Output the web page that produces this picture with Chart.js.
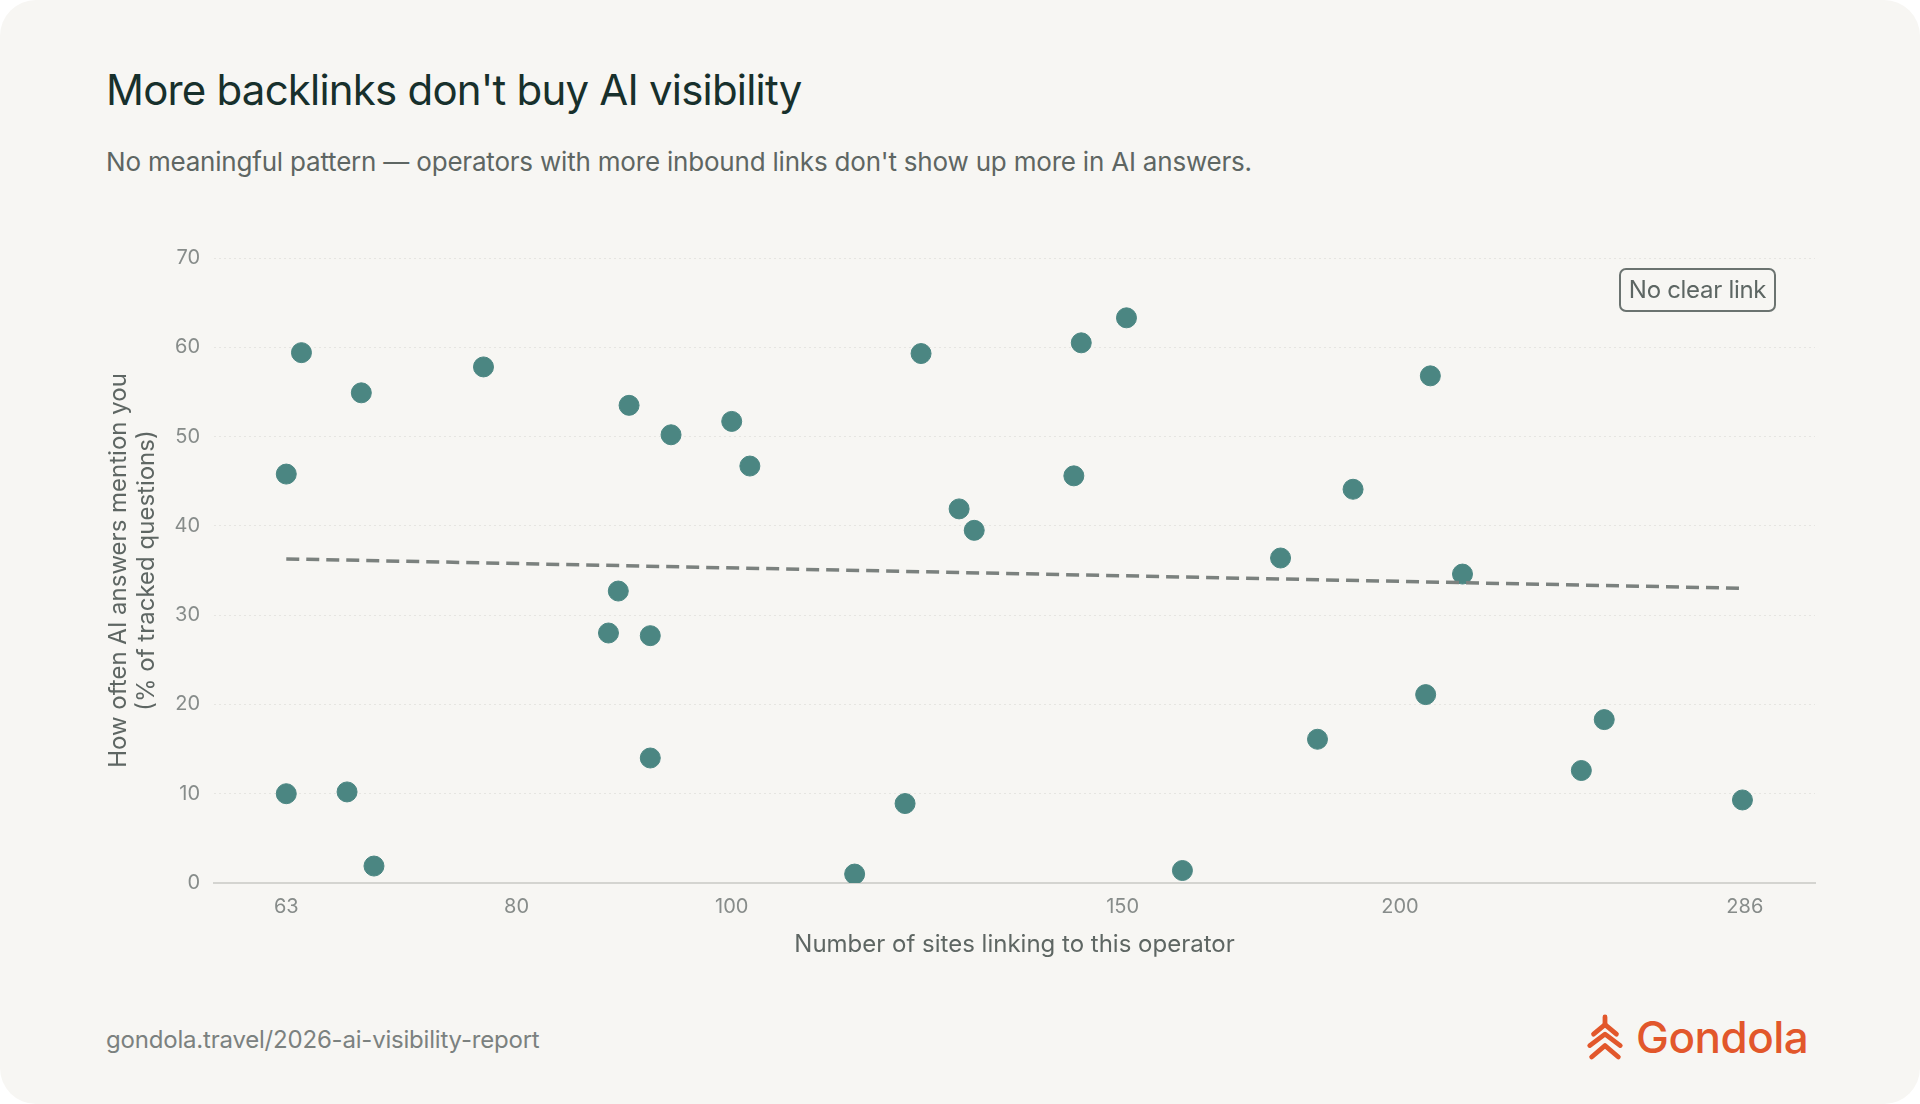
<!DOCTYPE html>
<html><head><meta charset="utf-8">
<script src="https://cdn.jsdelivr.net/npm/chart.js@4.4.1/dist/chart.umd.min.js"></script>
<style>
html,body{margin:0;padding:0;background:#ffffff;width:1920px;height:1104px;overflow:hidden;font-family:Inter,"Noto Sans",sans-serif}
#card{position:absolute;left:0;top:0;width:1920px;height:1104px;background:#f7f6f3;border-radius:36px}
#title{position:absolute;left:106px;top:64px;font-size:42px;color:#17302c;font-weight:400;letter-spacing:-0.8px}
#sub{position:absolute;left:106px;top:146px;font-size:26px;color:#5e6663;letter-spacing:-0.2px}
#foot{position:absolute;left:106px;top:1025px;font-size:24px;color:#7b817f;letter-spacing:-0.2px}
#logo{position:absolute;left:1584px;top:1010px;display:flex;align-items:center;color:#e2572b;font-size:44px;font-weight:500;letter-spacing:-0.5px}
#badge{position:absolute;left:1619px;top:268px;width:153px;height:40px;border:2px solid #6b7370;border-radius:7px;color:#5d6663;font-size:24px;line-height:40px;text-align:center;letter-spacing:-0.3px}
canvas{position:absolute;left:0;top:0}
</style></head><body>
<div id="card"></div>
<div id="title">More backlinks don't buy AI visibility</div>
<div id="sub">No meaningful pattern — operators with more inbound links don't show up more in AI answers.</div>
<div id="foot">gondola.travel/2026-ai-visibility-report</div>
<div id="logo"><svg width="42" height="48" viewBox="0 0 44 50" style="margin-right:10px"><g fill="none" stroke="#e2572b" stroke-width="5" stroke-linejoin="round" stroke-linecap="round"><path d="M22 4 L22 12"/><path d="M10 22 L22 12 L34 22"/><path d="M6 34 L22 22 L38 34"/><path d="M8 46 L22 34 L36 46"/></g></svg>Gondola</div>
<canvas id="c" width="1920" height="1104"></canvas>
<div id="badge">No clear link</div>
<script>
const linkCounts = [63,64.0,68.1,77.3,63,67.1,69.0,89.9,93.9,100,101.9,88.0,88.9,91.9,91.9,113.6,119.7,121.7,126.6,128.6,142.6,143.7,150.6,159.6,176.7,183.6,190.5,205.4,206.4,213.4,241.4,247.2,285.3];
const mentionPct = [45.8,59.4,54.9,57.8,10.0,10.2,1.9,53.5,50.2,51.7,46.7,28.0,32.7,27.7,14.0,1.0,8.9,59.3,41.9,39.5,45.6,60.5,63.3,1.4,36.4,16.1,44.1,21.1,56.8,34.6,12.6,18.3,9.3];
const trendX = [63,286];
const trendY = [36.3,33.0];
const xTickValues = [63,80,100,150,200,286];

new Chart(document.getElementById('c'),{
  type:'scatter',
  data:{datasets:[
    {type:'line',data:trendX.map((x,i)=>({x,y:trendY[i]})),borderColor:'#7b817e',borderWidth:3.5,borderDash:[13,7],pointRadius:0,fill:false},
    {data:linkCounts.map((x,i)=>({x,y:mentionPct[i]})),backgroundColor:'#4b8682',borderColor:'#4b8682',pointRadius:10,pointHoverRadius:10}
  ]},
  options:{
    responsive:false,animation:false,
    layout:{padding:{left:100,right:105,top:258,bottom:141}},
    plugins:{legend:{display:false},tooltip:{enabled:false}},
    scales:{
      x:{type:'logarithmic',min:58.45,max:307.6,
        afterBuildTicks:a=>{a.ticks=xTickValues.map(v=>({value:v}));},
        afterFit:a=>{a.height=80;},
        ticks:{callback:v=>String(v),color:'#878c8a',font:{family:'Inter',size:20},padding:4,maxRotation:0,autoSkip:false},
        grid:{display:false},
        border:{display:true,color:'#d4d4d0',width:2},
        title:{display:true,text:'Number of sites linking to this operator',color:'#5e6663',font:{family:'Inter',size:24},padding:{top:0}}
      },
      y:{min:0,max:70,
        afterFit:a=>{a.width=114;},
        ticks:{stepSize:10,color:'#878c8a',font:{family:'Inter',size:20},padding:14},
        grid:{color:'#e6e5e1',lineWidth:1,drawTicks:false},
        border:{display:false,dash:[2,3]},
        title:{display:true,text:['How often AI answers mention you','(% of tracked questions)'],color:'#5e6663',font:{family:'Inter',size:24},padding:{bottom:2}}
      }
    }
  }
});
</script>
</body></html>
